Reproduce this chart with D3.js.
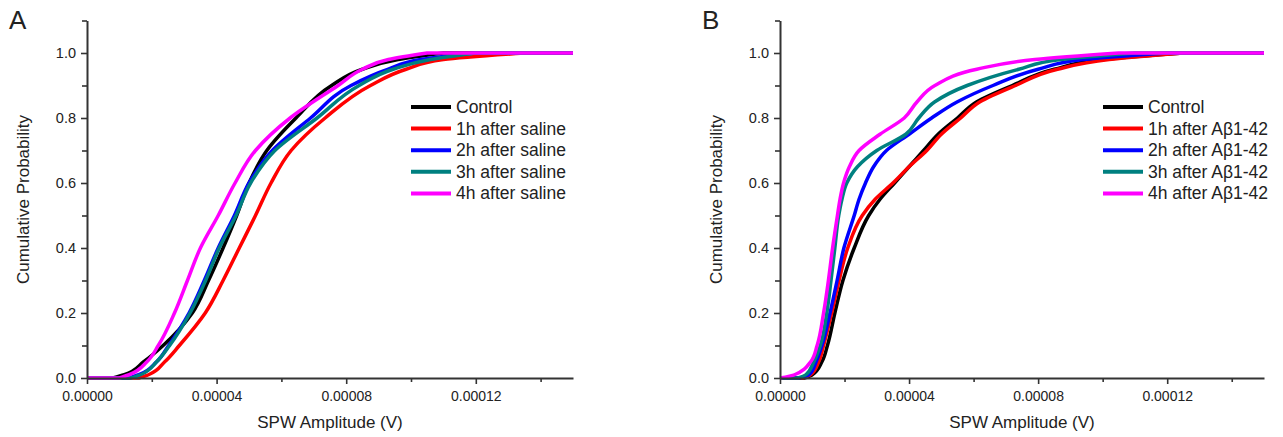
<!DOCTYPE html>
<html>
<head>
<meta charset="utf-8">
<script src="https://cdn.jsdelivr.net/npm/d3@7"></script>
<style>
  body { margin: 0; background: #fff; }
  text { font-family: "Liberation Sans", Arial, sans-serif; fill: #222; }
</style>
</head>
<body>
<div class="plot"></div>
<script>
// DATA
// amplitudes are in units of 1e-5 V, read at fixed cumulative probability levels
var ampUnit = 1e-5;

var seriesNamesA = ["Control", "1h after saline", "2h after saline", "3h after saline", "4h after saline"];
var seriesNamesB = ["Control", "1h after A\u03b21-42", "2h after A\u03b21-42", "3h after A\u03b21-42", "4h after A\u03b21-42"];

var probA = [0, 0.01, 0.05, 0.1, 0.2, 0.3, 0.4, 0.5, 0.6, 0.7, 0.8, 0.9, 0.95, 0.98, 1];
var ampA_control = [0.8, 1.15, 1.75, 2.35, 3.25, 3.75, 4.2, 4.62, 5.0, 5.55, 6.45, 7.55, 8.5, 9.6, 11.0];
var ampA_1h      = [1.6, 1.9, 2.4, 2.85, 3.65, 4.2, 4.7, 5.2, 5.68, 6.3, 7.35, 8.75, 9.85, 11.0, 13.5];
var ampA_2h      = [1.3, 1.6, 2.15, 2.52, 3.15, 3.62, 4.05, 4.55, 5.0, 5.72, 6.9, 8.15, 9.3, 10.3, 12.0];
var ampA_3h      = [1.35, 1.65, 2.15, 2.55, 3.18, 3.66, 4.08, 4.6, 5.05, 5.8, 7.1, 8.4, 9.45, 10.6, 12.0];
var ampA_4h      = [1.0, 1.3, 1.85, 2.2, 2.7, 3.1, 3.5, 4.05, 4.57, 5.2, 6.27, 7.75, 8.5, 9.3, 10.5];

var probB = [0, 0.01, 0.05, 0.1, 0.2, 0.3, 0.4, 0.5, 0.55, 0.6, 0.65, 0.7, 0.75, 0.8, 0.85, 0.9, 0.95, 0.98, 1];
var ampB_control = [0.75, 1.0, 1.3, 1.47, 1.7, 1.95, 2.3, 2.75, 3.1, 3.55, 4.0, 4.45, 4.9, 5.5, 6.1, 7.2, 8.5, 10.0, 12.5];
var ampB_1h      = [0.7, 0.95, 1.2, 1.35, 1.6, 1.83, 2.1, 2.55, 2.95, 3.5, 4.0, 4.55, 5.0, 5.6, 6.2, 7.3, 8.6, 10.2, 12.5];
var ampB_2h      = [0.6, 0.9, 1.12, 1.3, 1.55, 1.77, 1.98, 2.3, 2.45, 2.65, 2.9, 3.3, 4.0, 4.7, 5.5, 6.6, 8.0, 9.4, 12.0];
var ampB_3h      = [0.55, 0.8, 1.05, 1.25, 1.45, 1.58, 1.7, 1.82, 1.92, 2.07, 2.4, 3.0, 3.9, 4.3, 4.8, 5.8, 7.4, 8.7, 11.0];
var ampB_4h      = [0, 0.45, 0.95, 1.15, 1.35, 1.5, 1.63, 1.78, 1.86, 1.97, 2.15, 2.45, 3.1, 3.85, 4.25, 4.8, 6.1, 7.9, 10.5];

var yMajorTicks = [0, 0.2, 0.4, 0.6, 0.8, 1.0];
var yMinorTicks = [0.1, 0.3, 0.5, 0.7, 0.9, 1.1];
var xMajorTicks = [0, 0.00004, 0.00008, 0.00012];
var xMinorTicks = [0.00002, 0.00006, 0.00010, 0.00014];

var colors = ["#000000", "#ff0000", "#0000ff", "#008080", "#ff00ff"];

// LAYOUT
var w = 1283;
var h = 437;

var svg = d3.select(".plot").append("svg")
  .attr("width", w)
  .attr("height", h)
  .style("display", "block");

svg.append("rect").attr("width", w).attr("height", h).attr("fill", "#fff");

var yScale = d3.scaleLinear().domain([0, 1.1]).range([378, 20.5]);

function drawPanel(letter, x0, x1, prob, amps, names, legendX, legendY) {
  var xScale = d3.scaleLinear().domain([0, 0.00015]).range([x0, x1]);

  // curves: amplitude is a smooth function of probability
  var line = d3.line()
    .x(function (d) { return xScale(d[0] * ampUnit); })
    .y(function (d) { return yScale(d[1]); })
    .curve(d3.curveMonotoneY);

  amps.forEach(function (a, i) {
    var pts = a.map(function (v, j) { return [v, prob[j]]; });
    var d = line(pts);
    // flat part at 0 before the first event, flat part at 1 after the last
    if (a[0] > 0) d = "M" + xScale(0) + "," + yScale(0) + "L" + d.slice(1);
    d += "L" + xScale(0.00015) + "," + yScale(1);
    svg.append("path")
      .attr("fill", "none")
      .attr("stroke", colors[i])
      .attr("stroke-width", 3.5)
      .attr("stroke-linejoin", "round")
      .attr("d", d);
  });

  // axes
  var yAxis = svg.append("g")
    .attr("transform", "translate(" + x0 + ",0)")
    .call(d3.axisLeft(yScale).tickValues(yMajorTicks).tickSize(6).tickSizeOuter(0)
      .tickPadding(5).tickFormat(d3.format(".1f")));
  var yMinor = svg.append("g")
    .attr("transform", "translate(" + x0 + ",0)")
    .call(d3.axisLeft(yScale).tickValues(yMinorTicks).tickSize(5).tickSizeOuter(0).tickFormat(""));
  yMinor.select(".domain").remove();

  var xAxis = svg.append("g")
    .attr("transform", "translate(0,378)")
    .call(d3.axisBottom(xScale).tickValues(xMajorTicks).tickSize(6).tickSizeOuter(0)
      .tickPadding(7).tickFormat(d3.format(".5f")));
  var xMinor = svg.append("g")
    .attr("transform", "translate(0,378)")
    .call(d3.axisBottom(xScale).tickValues(xMinorTicks).tickSize(4).tickSizeOuter(0).tickFormat(""));
  xMinor.select(".domain").remove();

  svg.selectAll("g .domain").attr("stroke", "#333").attr("stroke-width", 2);
  svg.selectAll("g .tick line").attr("stroke", "#333").attr("stroke-width", 1.6);
  yAxis.selectAll("text").attr("font-size", "14.5px").attr("fill", "#222");
  xAxis.selectAll("text").attr("font-size", "14px").attr("fill", "#222");

  // axis labels
  svg.append("text")
    .attr("x", (x0 + x1) / 2)
    .attr("y", 428)
    .attr("font-size", "17px")
    .style("text-anchor", "middle")
    .text("SPW Amplitude (V)");

  svg.append("text")
    .attr("transform", "rotate(-90)")
    .attr("x", -199.5)
    .attr("y", x0 - 58)
    .attr("font-size", "17px")
    .style("text-anchor", "middle")
    .text("Cumulative Probability");

  // panel letter
  svg.append("text")
    .attr("x", x0 - 78)
    .attr("y", 29)
    .attr("font-size", "26px")
    .text(letter);

  // legend
  names.forEach(function (name, i) {
    var ly = legendY + i * 21.6;
    svg.append("line")
      .attr("x1", legendX).attr("x2", legendX + 40)
      .attr("y1", ly).attr("y2", ly)
      .attr("stroke", colors[i])
      .attr("stroke-width", 4);
    svg.append("text")
      .attr("x", legendX + 45)
      .attr("y", ly + 6)
      .attr("font-size", "17.5px")
      .text(name);
  });
}

drawPanel("A", 87, 573, probA, [ampA_control, ampA_1h, ampA_2h, ampA_3h, ampA_4h], seriesNamesA, 411, 107);
drawPanel("B", 780, 1264, probB, [ampB_control, ampB_1h, ampB_2h, ampB_3h, ampB_4h], seriesNamesB, 1103, 107);
</script>
</body>
</html>
